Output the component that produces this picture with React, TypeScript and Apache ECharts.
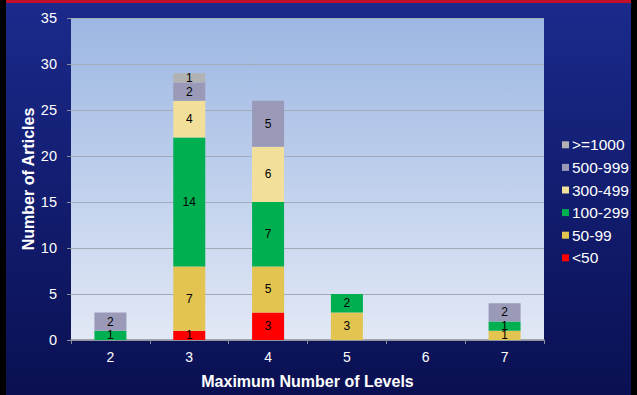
import React, { useEffect, useRef } from "react";
import * as echarts from "echarts";

const categories = ["2", "3", "4", "5", "6", "7"];
const seriesNames = ["<50", "50-99", "100-299", "300-499", "500-999", ">=1000"];
const lt50: (number | null)[] = [null, 1, 3, null, null, null];
const s50to99: (number | null)[] = [null, 7, 5, 3, null, 1];
const s100to299: (number | null)[] = [1, 14, 7, 2, null, 1];
const s300to499: (number | null)[] = [null, 4, 6, null, null, null];
const s500to999: (number | null)[] = [2, 2, 5, null, null, 2];
const ge1000: (number | null)[] = [null, 1, null, null, null, null];
const seriesValues = [lt50, s50to99, s100to299, s300to499, s500to999, ge1000];
const colors = ["#ff0000", "#e3c450", "#00b050", "#f2e09a", "#9a9ab8", "#b2b2b2"];
const yTicks = [0, 5, 10, 15, 20, 25, 30, 35];

export default function App() {
  const ref = useRef<HTMLDivElement>(null);
  useEffect(() => {
    if (!ref.current) return;
    const chart = echarts.init(ref.current, null, { renderer: "svg" });
    const font = "'Liberation Sans', Arial, sans-serif";
    chart.setOption({
      animation: false,
      backgroundColor: new echarts.graphic.LinearGradient(0, 0, 0, 1, [
        { offset: 0, color: "#1b2a8c" },
        { offset: 1, color: "#0a1052" },
      ]),
      textStyle: { fontFamily: font },
      graphic: [
        { type: "rect", left: 0, top: 0, shape: { width: 637, height: 3 }, style: { fill: "#c0102a" } },
        { type: "rect", left: 0, top: 0, shape: { width: 6, height: 395 }, style: { fill: "#000000" } },
        { type: "rect", right: 0, top: 0, shape: { width: 6, height: 395 }, style: { fill: "#000000" } },
      ],
      grid: {
        left: 71,
        right: 93,
        top: 18,
        bottom: 55,
        show: true,
        borderWidth: 0,
        backgroundColor: new echarts.graphic.LinearGradient(0, 0, 0, 1, [
          { offset: 0, color: "#9cb7e3" },
          { offset: 1, color: "#e2e8f5" },
        ]),
      },
      legend: {
        orient: "vertical",
        left: 557,
        top: 131,
        itemWidth: 7,
        itemHeight: 7,
        itemGap: 5,
        icon: "rect",
        data: [...seriesNames].reverse(),
        textStyle: { color: "#ffffff", fontSize: 15.5, fontFamily: font, padding: [0, 0, 0, -2], lineHeight: 17.6 },
      },
      xAxis: {
        type: "category",
        data: categories,
        name: "Maximum Number of Levels",
        nameLocation: "middle",
        nameGap: 33,
        nameMoveOverlap: false,
        nameTextStyle: { color: "#ffffff", fontSize: 16, fontWeight: "bold", fontFamily: font },
        axisLine: { lineStyle: { color: "#8a8f9a", width: 1.5 } },
        axisTick: { show: true, length: 4, lineStyle: { color: "#8a8f9a" } },
        axisLabel: { color: "#ffffff", fontSize: 14, margin: 10, fontFamily: font },
      },
      yAxis: {
        type: "value",
        min: yTicks[0],
        max: yTicks[yTicks.length - 1],
        interval: 5,
        name: "Number of Articles",
        nameLocation: "middle",
        nameGap: 35,
        nameMoveOverlap: false,
        nameTextStyle: { color: "#ffffff", fontSize: 16, fontWeight: "bold", fontFamily: font },
        axisLine: { show: false },
        axisTick: { show: true, length: 4, lineStyle: { color: "#8a8f9a" } },
        axisLabel: { color: "#ffffff", fontSize: 14.5, margin: 14, fontFamily: font },
        splitLine: { lineStyle: { color: "#a3aab8", width: 1 } },
      },
      series: seriesNames.map((name, i) => ({
        name,
        type: "bar",
        stack: "total",
        barWidth: 32,
        data: seriesValues[i],
        itemStyle: { color: colors[i] },
        label: {
          show: true,
          position: "inside",
          color: "#000000",
          fontSize: 12,
          fontFamily: font,
        },
      })),
    });
    return () => chart.dispose();
  }, []);
  return (
    <div
      ref={ref}
      style={{ position: "fixed", left: 0, top: 0, width: 637, height: 395 }}
    />
  );
}
